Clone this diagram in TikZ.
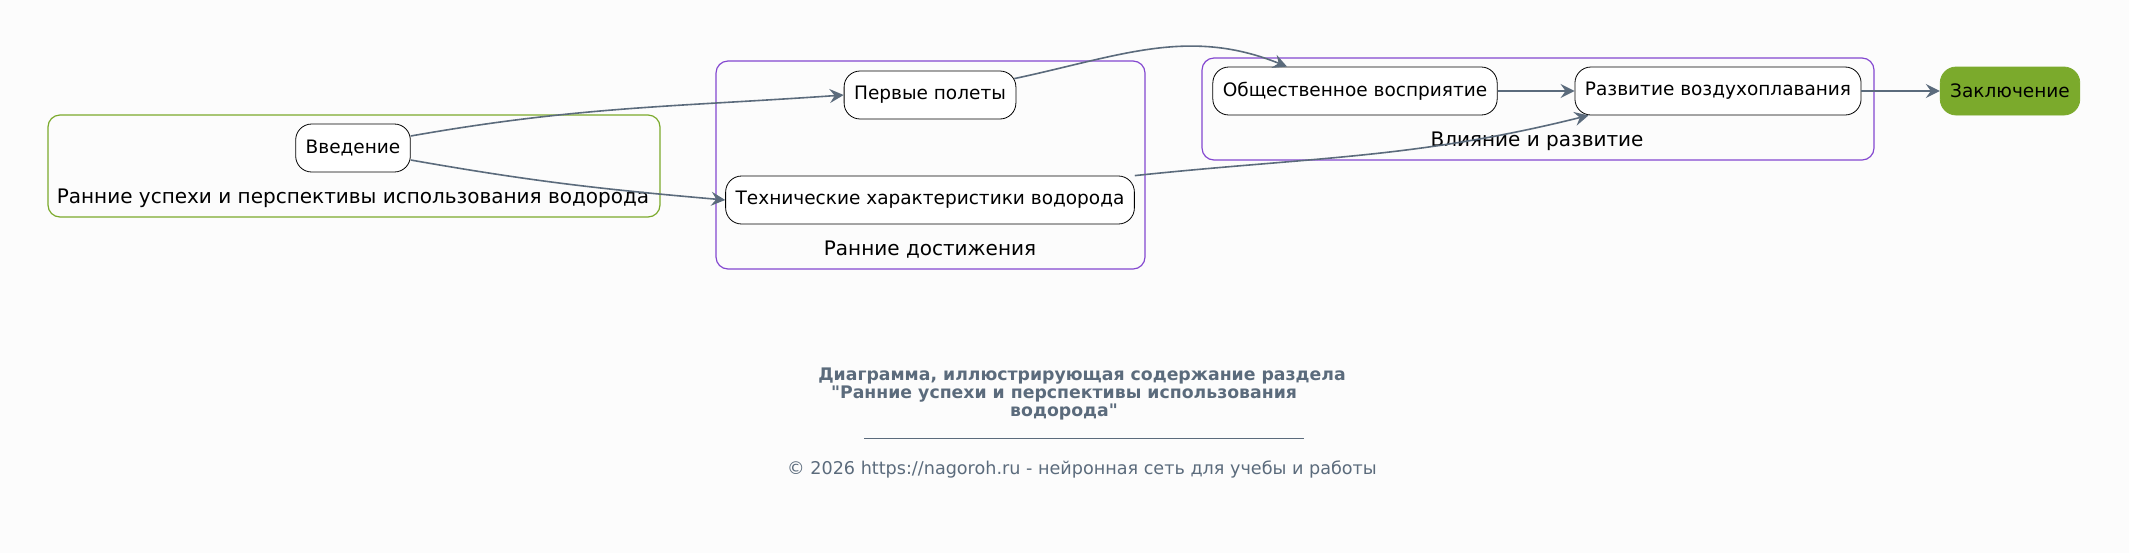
\documentclass[tikz,border=0pt]{standalone}
\usepackage{fontspec}
\setmainfont{DejaVu Sans}[Ligatures=TeXOff]
\usetikzlibrary{arrows.meta}

\definecolor{slate}{HTML}{5B6B7C}
\definecolor{grpgreen}{HTML}{7BAA2C}
\definecolor{grpviolet}{HTML}{8448D0}
\definecolor{bg}{HTML}{FCFCFC}

\tikzset{
  stage/.style={draw=black, rounded corners=8pt, fill=white, minimum height=24pt,
    inner xsep=5pt, font=\fontsize{9.25}{11}\selectfont},
  grp/.style={rounded corners=6pt, line width=0.6pt},
  grplabel/.style={font=\fontsize{10}{12}\selectfont},
  caption/.style={slate, font=\bfseries\fontsize{8.65}{10}\selectfont},
  link/.style={draw=slate, line width=0.8pt, -{Stealth[length=7pt,width=7pt,inset=2.5pt]}},
}

\begin{document}
\begin{tikzpicture}[x=0.5pt, y=-0.5pt]
        % Canvas
        \fill [bg] (0,0) rectangle (2129,553);
        \useasboundingbox (0,0) rectangle (2129,553);

        % Group 1: early success
        \draw [grp, grpgreen] (48,115) rectangle (660,217);
        \node [grplabel] (g1lab) at (353,198) {Ранние успехи и перспективы использования водорода};
        \node [stage] (intro) at (353,148) {Введение};

        % Group 2: early achievements
        \draw [grp, grpviolet] (716,61) rectangle (1145,269);
        \node [grplabel] (g2lab) at (930,250) {Ранние достижения};
        \node [stage] (flights) at (930,95) {Первые полеты};
        \node [stage] (tech) at (930,200) {Технические характеристики водорода};

        % Group 3: impact and development
        \draw [grp, grpviolet] (1202,58) rectangle (1874,160);
        \node [grplabel] (g3lab) at (1537,141) {Влияние и развитие};
        \node [stage] (public) at (1355,91) {Общественное восприятие};
        \node [stage] (aero) at (1718,91) {Развитие воздухоплавания};

        % Final node
        \node [stage, draw=grpgreen, fill=grpgreen] (final) at (2010,91) {Заключение};

        % Links
        \draw [link] (intro.east) ++(0,-12) to [out=10, in=184] (flights.west);
        \draw [link] (intro.east) ++(0,12) to [out=-10, in=175] (tech.west);
        \draw [link] (flights.north east) ++(-2,8) to [out=12, in=158] ([xshift=-34pt]public.north);
        \draw [link] (tech.north east) to [out=6, in=194] ([xshift=7pt]aero.south west);
        \draw [link] (public) -- (aero);
        \draw [link] (aero) -- (final);

        % Caption
        \node [caption] (cap1) at (1082,376) {Диаграмма, иллюстрирующая содержание раздела};
        \node [caption] (cap2) at (1064,394) {"Ранние успехи и перспективы использования};
        \node [caption] (cap3) at (1064,412) {водорода"};
        \coordinate (rulel) at (864,438);
        \coordinate (ruler) at (1304,438);
        \draw [slate, line width=0.4pt] (rulel) -- (ruler);
        \node [slate, font=\fontsize{8.8}{10}\selectfont] (copy) at (1082,469) {© 2026 https://nagoroh.ru - нейронная сеть для учебы и работы};
\end{tikzpicture}
\end{document}
